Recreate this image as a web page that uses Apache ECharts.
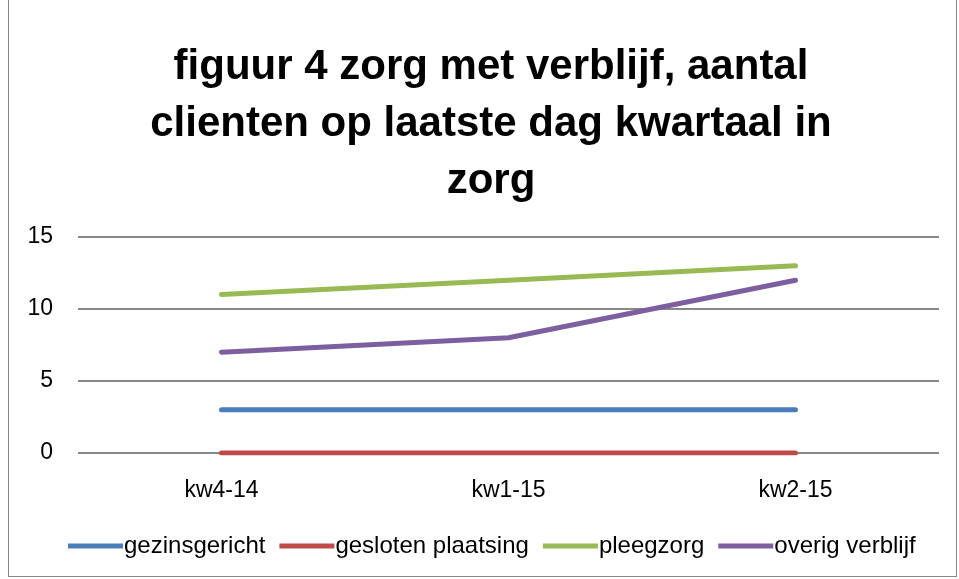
<!DOCTYPE html>
<html><head><meta charset="utf-8">
<script src="https://cdn.jsdelivr.net/npm/echarts@6/dist/echarts.min.js"></script>
<style>
html,body{margin:0;padding:0;background:#fff;}
#wrap{position:absolute;left:8px;top:0;width:949px;height:577px;border:1px solid #888;border-top:none;box-sizing:border-box;}
#c{position:absolute;left:0;top:0;width:959px;height:579px;}
</style></head>
<body>
<div id="wrap"></div>
<div id="c"></div>
<script>
const categories = ['kw4-14', 'kw1-15', 'kw2-15'];
const gezinsgericht = [3, 3, 3];
const geslotenPlaatsing = [0, 0, 0];
const pleegzorg = [11, 12, 13];
const overigVerblijf = [7, 8, 12];
const yTicks = [0, 5, 10, 15];

const chart = echarts.init(document.getElementById('c'), null, {renderer: 'canvas'});
const font = '"Liberation Sans", "DejaVu Sans", sans-serif';
function s(name, data, color) {
  return {name, type: 'line', data, symbol: 'none', lineStyle: {color, width: 5, cap: 'round'}, itemStyle: {color}};
}
chart.setOption({
  animation: false,
  title: {
    text: 'figuur 4 zorg met verblijf, aantal\nclienten op laatste dag kwartaal in\nzorg',
    left: 486, top: 34, textAlign: 'center',
    textStyle: {fontFamily: font, fontWeight: 'bold', fontSize: 42, lineHeight: 57, color: '#000'}
  },
  legend: {
    bottom: 16, left: 63, itemWidth: 55, itemHeight: 5, itemGap: 14,
    icon: 'rect',
    textStyle: {fontFamily: font, fontSize: 24, color: '#000', padding: [0, 0, 0, -4]},
    data: ['gezinsgericht', 'gesloten plaatsing', 'pleegzorg', 'overig verblijf']
  },
  grid: {left: 78, right: 20, top: 237, bottom: 126},
  xAxis: {
    type: 'category', data: categories, boundaryGap: true,
    axisLine: {show: false}, axisTick: {show: false},
    axisLabel: {fontFamily: font, fontSize: 23, color: '#000', margin: 26}
  },
  yAxis: {
    type: 'value', min: 0, max: 15, interval: 5,
    axisLine: {show: false}, axisTick: {show: false},
    splitLine: {lineStyle: {color: '#888', width: 2}},
    axisLabel: {fontFamily: font, fontSize: 23, color: '#000', margin: 25,
      formatter: v => yTicks.includes(v) ? String(v) : ''}
  },
  series: [
    s('gezinsgericht', gezinsgericht, '#4a7ebb'),
    s('gesloten plaatsing', geslotenPlaatsing, '#be4b48'),
    s('pleegzorg', pleegzorg, '#98b954'),
    s('overig verblijf', overigVerblijf, '#7d5fa0')
  ]
});
</script>
</body></html>
